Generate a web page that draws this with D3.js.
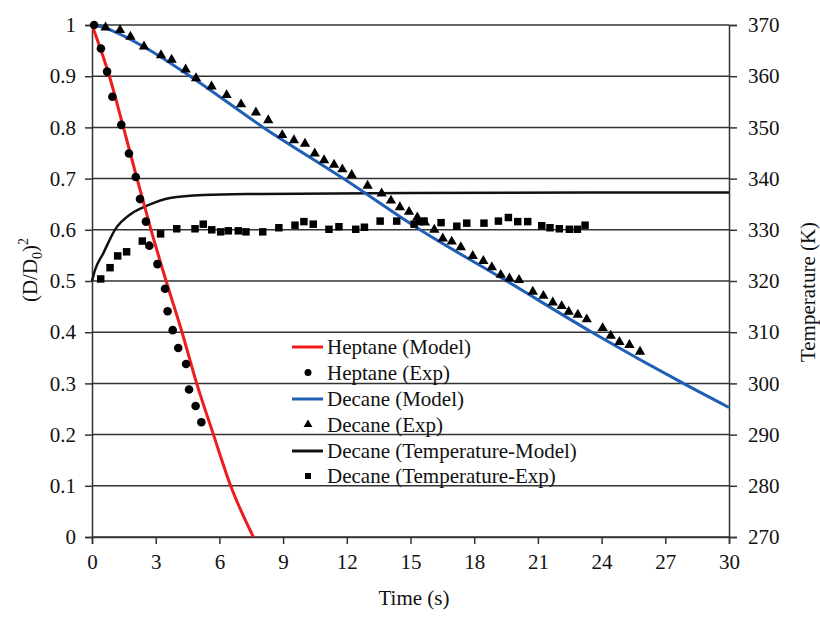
<!DOCTYPE html>
<html>
<head>
<meta charset="utf-8">
<script src="https://cdn.jsdelivr.net/npm/d3@7"></script>
<style>
  body { margin: 0; background: #fff; }
  svg text { font-family: "Liberation Serif", "DejaVu Serif", serif; fill: #111; }
</style>
</head>
<body>
<script>
// time ticks and axis labels
var timeTicks = [0,3,6,9,12,15,18,21,24,27,30];
var leftTicks = [0,0.1,0.2,0.3,0.4,0.5,0.6,0.7,0.8,0.9,1];
var leftTickLabels = ['0','0.1','0.2','0.3','0.4','0.5','0.6','0.7','0.8','0.9','1'];
var rightTicks = [270,280,290,300,310,320,330,340,350,360,370];

// heptane model (red)
var hepModelT = [0,0.82,1.48,2.12,2.78,3.49,4.24,4.93,5.72,6.53,7.6];
var hepModelD = [1,0.9,0.8,0.7,0.6,0.5,0.4,0.3,0.2,0.1,0];

// heptane experiment (circles)
var hepExpT = [0.1,0.42,0.71,0.96,1.38,1.74,2.06,2.26,2.54,2.70,3.08,3.44,3.56,3.80,4.06,4.43,4.57,4.88,5.15];
var hepExpD = [1,0.954,0.909,0.860,0.805,0.749,0.703,0.660,0.616,0.569,0.533,0.485,0.441,0.404,0.369,0.338,0.288,0.256,0.224];

// decane model (blue)
var decModelT = [0,0.5,1,2.42,4.62,8.07,11.84,15.45,19.53,23.54,27.85,30];
var decModelD = [1,0.996,0.988,0.958,0.9,0.8,0.7,0.6,0.5,0.4,0.3,0.253];

// decane experiment (triangles)
var decExpT = [0.64,1.32,1.81,2.45,3.25,3.75,4.41,4.90,5.63,6.34,7.02,7.72,8.30,8.96,9.51,10.03,10.49,10.93,11.40,11.79,12.23,12.98,13.64,14.08,14.50,14.93,15.32,15.68,16.12,16.52,16.94,17.37,17.93,18.43,18.83,19.25,19.66,20.11,20.76,21.26,21.70,22.12,22.45,22.88,23.30,24.05,24.43,24.84,25.31,25.81];
var decExpD = [0.995,0.990,0.977,0.958,0.941,0.932,0.913,0.896,0.880,0.863,0.845,0.829,0.814,0.785,0.775,0.768,0.749,0.736,0.727,0.718,0.707,0.686,0.671,0.657,0.644,0.635,0.624,0.614,0.600,0.583,0.577,0.566,0.549,0.539,0.527,0.512,0.505,0.502,0.479,0.471,0.458,0.451,0.440,0.434,0.425,0.408,0.393,0.381,0.375,0.362];

// decane temperature model (black line, right axis)
var tempModelT = [0,0.14,0.53,1.08,1.87,2.65,3.67,5.24,7.91,15,30];
var tempModelK = [320,322.1,325.4,330.0,333.2,334.8,336.2,336.8,337.0,337.2,337.3];

// decane temperature experiment (squares, right axis)
var tempExpT = [0.41,0.85,1.21,1.63,2.37,3.23,3.99,4.85,5.24,5.64,6.06,6.42,6.89,7.25,8.04,8.80,9.56,9.98,10.42,11.16,11.63,12.42,12.83,13.57,14.35,15.17,15.42,15.64,16.44,17.18,17.65,18.46,19.14,19.61,20.05,20.52,21.18,21.57,22.01,22.48,22.86,23.22];
var tempExpK = [320.4,322.6,324.9,325.7,327.8,329.2,330.2,330.2,331.1,330.0,329.6,329.8,329.8,329.6,329.6,330.4,330.9,331.6,331.1,330.1,330.6,330.1,330.5,331.7,331.7,331.1,331.6,331.7,331.4,330.7,331.3,331.3,331.7,332.4,331.6,331.6,330.8,330.4,330.2,330.1,330.1,330.9];

var legendNames = ['Heptane (Model)','Heptane (Exp)','Decane (Model)','Decane (Exp)','Decane (Temperature-Model)','Decane (Temperature-Exp)'];

var W = 820, H = 618;
var FONT = '"Liberation Serif", "DejaVu Serif", serif';
var svg = d3.select('body').append('svg').attr('width',W).attr('height',H)
  .style('font-family',FONT);

var x = d3.scaleLinear().domain([0,30]).range([92,729]);
var yL = d3.scaleLinear().domain([0,1]).range([537,25]);
var yR = d3.scaleLinear().domain([270,370]).range([537,25]);

function zip(a,b){ return a.map((v,i) => [v,b[i]]); }

// grid lines
svg.append('g').selectAll('line.grid')
  .data(leftTicks)
  .enter().append('line')
    .attr('class','grid')
    .attr('x1',x(0)).attr('x2',x(30))
    .attr('y1',d => yL(d)).attr('y2',d => yL(d))
    .attr('stroke','#333').attr('stroke-width',1.5);

// axes
var gx = svg.append('g').attr('transform','translate(0,537)')
  .call(d3.axisBottom(x).tickValues(timeTicks).tickSize(7).tickPadding(10).tickFormat(d3.format('d')));
var gl = svg.append('g').attr('transform','translate(92,0)')
  .call(d3.axisLeft(yL).tickValues(leftTicks).tickSize(7).tickPadding(9).tickFormat((d,i) => leftTickLabels[i]));
var gr = svg.append('g').attr('transform','translate(729,0)')
  .call(d3.axisRight(yR).tickValues(rightTicks).tickSize(8).tickPadding(11).tickFormat(d3.format('d')));
[gx,gl,gr].forEach(g => {
  g.attr('font-family',null).attr('font-size',null);
  g.select('.domain').attr('stroke','#333').attr('stroke-width',1.5);
  g.selectAll('.tick line').attr('stroke','#333').attr('stroke-width',1.5);
  g.selectAll('.tick text').style('font-family',FONT).style('font-size','21px').attr('fill','#111');
});

// model lines
var lineL = d3.line().x(d => x(d[0])).y(d => yL(d[1])).curve(d3.curveMonotoneX);
var lineR = d3.line().x(d => x(d[0])).y(d => yR(d[1])).curve(d3.curveMonotoneX);

svg.append('path').attr('d',lineR(zip(tempModelT,tempModelK)))
  .attr('fill','none').attr('stroke','#111').attr('stroke-width',2.5);
svg.append('path').attr('d',lineL(zip(decModelT,decModelD)))
  .attr('fill','none').attr('stroke','#1f5fb5').attr('stroke-width',3);
svg.append('path').attr('d',lineL(zip(hepModelT,hepModelD)))
  .attr('fill','none').attr('stroke','#ee1c1c').attr('stroke-width',3);

// experimental markers
svg.append('g').selectAll('circle')
  .data(zip(hepExpT,hepExpD))
  .enter().append('circle')
    .attr('cx',d => x(d[0])).attr('cy',d => yL(d[1]))
    .attr('r',4.3).attr('fill','#000');

var tri = d3.symbol().type(d3.symbolTriangle).size(46);
svg.append('g').selectAll('path.tri')
  .data(zip(decExpT,decExpD))
  .enter().append('path')
    .attr('class','tri')
    .attr('d',tri)
    .attr('transform',d => 'translate('+x(d[0])+','+yL(d[1])+')')
    .attr('fill','#000');

var sq = d3.symbol().type(d3.symbolSquare).size(56);
svg.append('g').selectAll('path.sq')
  .data(zip(tempExpT,tempExpK))
  .enter().append('path')
    .attr('class','sq')
    .attr('d',sq)
    .attr('transform',d => 'translate('+x(d[0])+','+yR(d[1])+')')
    .attr('fill','#000');

// legend
var legRows = [347,372.5,399,424.5,451,476];
var leg = svg.append('g');
legendNames.forEach((name,i) => {
  var cy = legRows[i];
  if (i === 0 || i === 2 || i === 4) {
    leg.append('line').attr('x1',292).attr('x2',323).attr('y1',cy).attr('y2',cy)
      .attr('stroke',['#ee1c1c',null,'#1f5fb5',null,'#111'][i]).attr('stroke-width',3);
  } else if (i === 1) {
    leg.append('circle').attr('cx',308).attr('cy',cy).attr('r',3.5).attr('fill','#000');
  } else if (i === 3) {
    leg.append('path').attr('d',d3.symbol().type(d3.symbolTriangle).size(34))
      .attr('transform','translate(308,'+cy+')').attr('fill','#000');
  } else {
    leg.append('path').attr('d',d3.symbol().type(d3.symbolSquare).size(36))
      .attr('transform','translate(308,'+cy+')').attr('fill','#000');
  }
  leg.append('text').attr('x',327).attr('y',cy+7).style('font-size','21px').text(name);
});

// axis titles
svg.append('text').attr('x',414).attr('y',605).attr('text-anchor','middle')
  .style('font-size','21px').text('Time (s)');

var lt = svg.append('text').attr('transform','translate(37,270) rotate(-90)')
  .attr('text-anchor','middle').style('font-size','21px');
lt.append('tspan').text('(D/D');
lt.append('tspan').style('font-size','14px').attr('dy',5).text('0');
lt.append('tspan').attr('dy',-5).text(')');
lt.append('tspan').style('font-size','14px').attr('dy',-9).text('2');

svg.append('text').attr('transform','translate(815,292) rotate(-90)')
  .attr('text-anchor','middle').style('font-size','21px').text('Temperature (K)');
</script>
</body>
</html>
